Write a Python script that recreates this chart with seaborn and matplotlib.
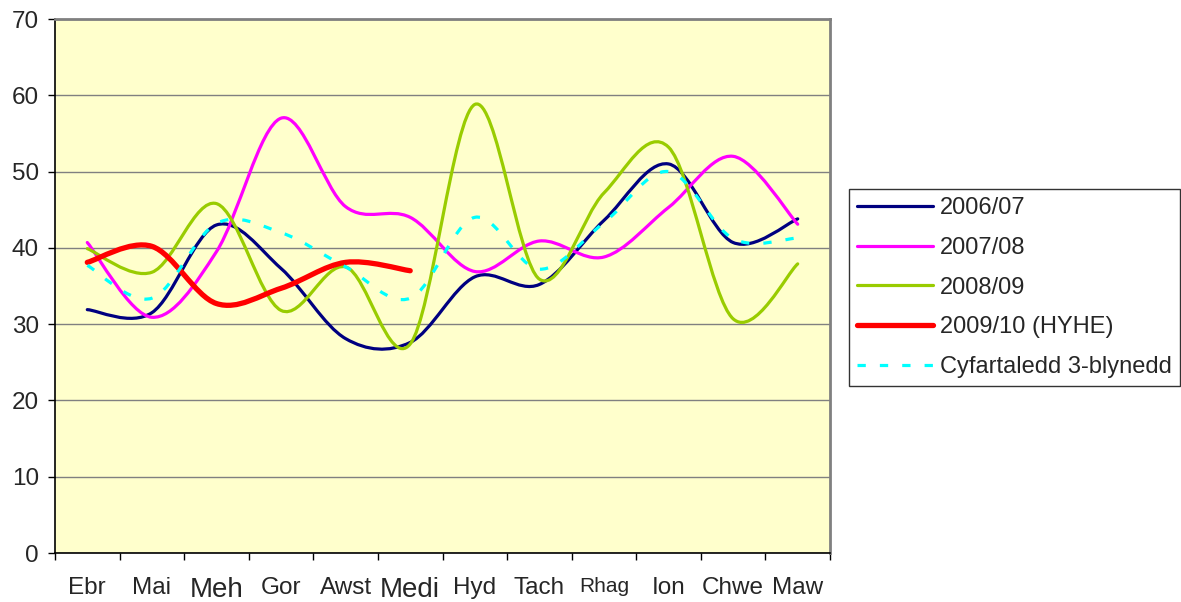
import numpy as np
import matplotlib
matplotlib.use("Agg")
import matplotlib.pyplot as plt
import seaborn as sns
from matplotlib.path import Path
from matplotlib.patches import PathPatch
from matplotlib.lines import Line2D

# month labels (Welsh) and their font sizes as shown
months = ["Ebr", "Mai", "Meh", "Gor", "Awst", "Medi", "Hyd", "Tach", "Rhag", "Ion", "Chwe", "Maw"]
month_sizes = [17.5, 17.5, 20, 17.5, 17.5, 20, 17.5, 17.5, 15, 17.5, 17.5, 17.5]

y0607 = [31.9, 31.5, 43.0, 37.3, 28.1, 27.6, 36.2, 35.2, 43.6, 51.0, 40.7, 43.8]
y0708 = [40.7, 30.9, 39.5, 57.0, 45.4, 44.0, 36.9, 40.9, 38.8, 45.3, 52.0, 43.1]
y0809 = [39.9, 36.8, 45.8, 31.8, 37.5, 27.4, 58.8, 35.9, 47.2, 53.2, 30.7, 37.9]
y0910 = [38.1, 40.2, 32.7, 34.7, 38.1, 37.0]
yavg = [37.7, 33.4, 43.2, 42.0, 37.5, 33.4, 44.0, 37.2, 43.3, 50.0, 41.2, 41.3]

series_names = ["2006/07", "2007/08", "2008/09", "2009/10 (HYHE)", "Cyfartaledd 3-blynedd"]
series_vals = [y0607, y0708, y0809, y0910, yavg]
colors = ["#000080", "#FF00FF", "#99CC00", "#FF0000", "#00FFFF"]
widths = [2.3, 2.3, 2.3, 3.8, 2.3]
styles = ["-", "-", "-", "-", (0, (2.6, 4.4))]


def smooth_path(xy):
    # Excel style smoothed line: Catmull-Rom segments as cubic Beziers
    pts = np.vstack([xy[0], xy, xy[-1]])
    verts = [pts[1]]
    codes = [Path.MOVETO]
    for i in range(1, len(pts) - 2):
        p0, p1, p2, p3 = pts[i - 1], pts[i], pts[i + 1], pts[i + 2]
        verts += [p1 + (p2 - p0) / 6.0, p2 - (p3 - p1) / 6.0, p2]
        codes += [Path.CURVE4] * 3
    return Path(verts, codes)


sns.set_style("white")
plt.rcParams['font.family'] = ['Liberation Sans', 'DejaVu Sans']

fig = plt.figure(figsize=(11.81, 6.02), dpi=100)
ax = fig.add_axes([55 / 1181, 1 - 553 / 602, (830 - 55) / 1181, (553 - 19) / 602])
ax.set_facecolor("#FFFFCC")

xpos = np.arange(len(months))
for name, vals, c, lw, ls in zip(series_names, series_vals, colors, widths, styles):
    sns.lineplot(x=xpos[:len(vals)], y=vals, ax=ax, color=c, legend=False)
    line = ax.lines[-1]
    line.set_visible(False)
    cap = "butt" if ls != "-" else "round"
    ax.add_patch(PathPatch(smooth_path(line.get_xydata()), fill=False, edgecolor=c,
                           lw=lw, linestyle=ls, capstyle=cap, joinstyle="round", zorder=3))

ax.set_xlim(-0.5, 11.5)
ax.set_ylim(0, 70)
ax.set_yticks(range(0, 71, 10))
ax.yaxis.grid(True, color="#808080", lw=1.0)
ax.set_axisbelow(True)

# category boundaries carry the tick marks, labels sit in between
ax.set_xticks(np.arange(-0.5, 12, 1))
ax.set_xticklabels([])
ax.set_xticks(xpos, minor=True)
ax.set_xticklabels(months, minor=True)
for lab, fs in zip(ax.get_xticklabels(minor=True), month_sizes):
    lab.set_fontsize(fs)
ax.tick_params(axis="x", which="major", direction="out", length=5, width=1, color="black", bottom=True)
ax.tick_params(axis="x", which="minor", length=0, pad=17)
ax.tick_params(axis="y", direction="out", length=5, width=1, color="black", left=True, labelsize=17.5, pad=6.5)

for s in ["left", "bottom"]:
    ax.spines[s].set_color("black")
    ax.spines[s].set_linewidth(1.2)
for s in ["top", "right"]:
    ax.spines[s].set_color("#808080")
    ax.spines[s].set_linewidth(2)
ax.set_xlabel("")
ax.set_ylabel("")

handles = [Line2D([], [], color=c, lw=lw, linestyle=ls) for c, lw, ls in zip(colors, widths, styles)]
leg = fig.legend(handles, series_names, loc="upper left", bbox_to_anchor=(849 / 1181, 1 - 189 / 602),
                 fontsize=17, frameon=True, fancybox=False, edgecolor="black",
                 handlelength=3.2, handletextpad=0.3, labelspacing=0.75, borderpad=0.35,
                 borderaxespad=0)
leg.get_frame().set_linewidth(1.0)

fig.savefig("out.png", dpi=100)
